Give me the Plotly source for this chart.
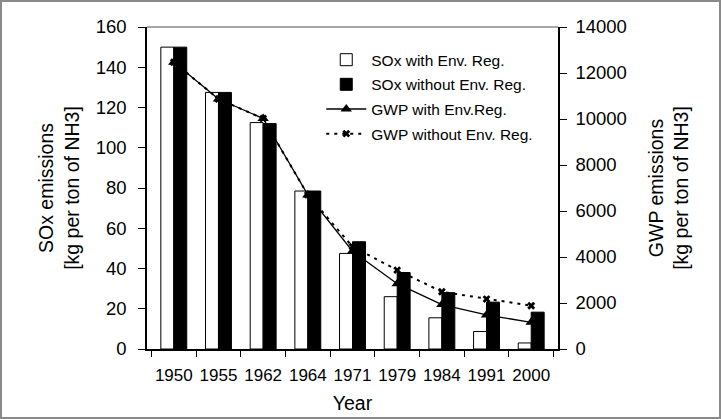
import plotly.graph_objects as go

years = ["1950", "1955", "1962", "1964", "1971", "1979", "1984", "1991", "2000"]
sox_with = [150, 127.5, 112.5, 78.5, 47.5, 26, 15.5, 8.7, 3]
sox_without = [150, 127.5, 112, 78.5, 53.3, 38, 28, 23.3, 18.3]
gwp_with = [12470, 10870, 10020, 6700, 4250, 2840, 1930, 1480, 1160]
gwp_without = [12470, 10870, 10020, 6700, 4450, 3430, 2490, 2170, 1880]

FONT = "Liberation Sans, Arial, Helvetica, sans-serif"

fig = go.Figure()
fig.add_trace(go.Bar(x=years, y=sox_with, name="SOx with Env. Reg.", legendgroup="a",
                     marker=dict(color="white", line=dict(color="black", width=1))))
fig.add_trace(go.Bar(x=years, y=sox_without, name="SOx without Env. Reg.", legendgroup="b",
                     marker=dict(color="black", line=dict(color="black", width=1))))
fig.add_trace(go.Scatter(x=years, y=gwp_with, name="GWP with Env.Reg.", yaxis="y2",
                         mode="lines+markers", legendgroup="c",
                         line=dict(color="black", width=1.3),
                         marker=dict(symbol="triangle-up", size=10, color="black")))
fig.add_trace(go.Scatter(x=years, y=gwp_without, name="GWP without Env. Reg.", yaxis="y2",
                         mode="lines+markers", legendgroup="d",
                         line=dict(color="black", width=2, dash="3px,5px"),
                         marker=dict(symbol="x", size=7, color="black")))

W, H = 721, 419
L, R, T, B = 147, 163, 27, 70
pw, ph = W - L - R, H - T - B

fig.update_layout(
    width=W, height=H,
    margin=dict(l=L, r=R, t=T, b=B, autoexpand=False),
    paper_bgcolor="white", plot_bgcolor="white",
    font=dict(family=FONT, size=16, color="black"),
    barmode="group", bargap=0.42, bargroupgap=0,
    showlegend=True,
    legend=dict(x=0.424, y=0.95, xanchor="left", yanchor="top",
                bgcolor="rgba(0,0,0,0)", font=dict(size=15.5, family=FONT),
                traceorder="grouped", tracegroupgap=1.5, itemwidth=40),
    xaxis=dict(type="category", showline=True, linecolor="black", linewidth=1.5,
               ticks="outside", tickson="boundaries", ticklen=6, tickcolor="black",
               showgrid=False, mirror=False, ticklabelstandoff=10, tickangle=0,
               automargin=False,
               title=dict(text="Year", font=dict(size=19.5), standoff=12),
               tickfont=dict(size=17)),
    yaxis=dict(range=[0, 160], dtick=20, showline=True, linecolor="black", linewidth=1.5,
               ticks="outside", ticklen=7, tickcolor="black", showgrid=False, zeroline=False,
               ticklabelstandoff=8, automargin=False,
               title=dict(text="SOx emissions<br>[kg per ton of NH3]", font=dict(size=19.5), standoff=11),
               tickfont=dict(size=18.5)),
    yaxis2=dict(range=[0, 14000], dtick=2000, tickformat="d", overlaying="y", side="right",
                showline=True, linecolor="black", linewidth=1.5,
                ticks="outside", ticklen=7, tickcolor="black", showgrid=False, zeroline=False,
                ticklabelstandoff=5, automargin=False,
                title=dict(text="GWP emissions<br>[kg per ton of NH3]", font=dict(size=19.5), standoff=23),
                tickfont=dict(size=18.5)),
)

# thin gray top frame of plot area
fig.add_shape(type="line", xref="paper", yref="paper", x0=0, x1=1, y0=1, y1=1,
              line=dict(color="#888888", width=1.5))
# gray border around the whole image
fig.add_shape(type="rect", xref="paper", yref="paper",
              x0=-(L - 1) / pw, x1=1 + (R - 1) / pw, y0=-(B - 1) / ph, y1=1 + (T - 1) / ph,
              line=dict(color="#8a8a8a", width=2), layer="below")

fig.write_html("out.html")
